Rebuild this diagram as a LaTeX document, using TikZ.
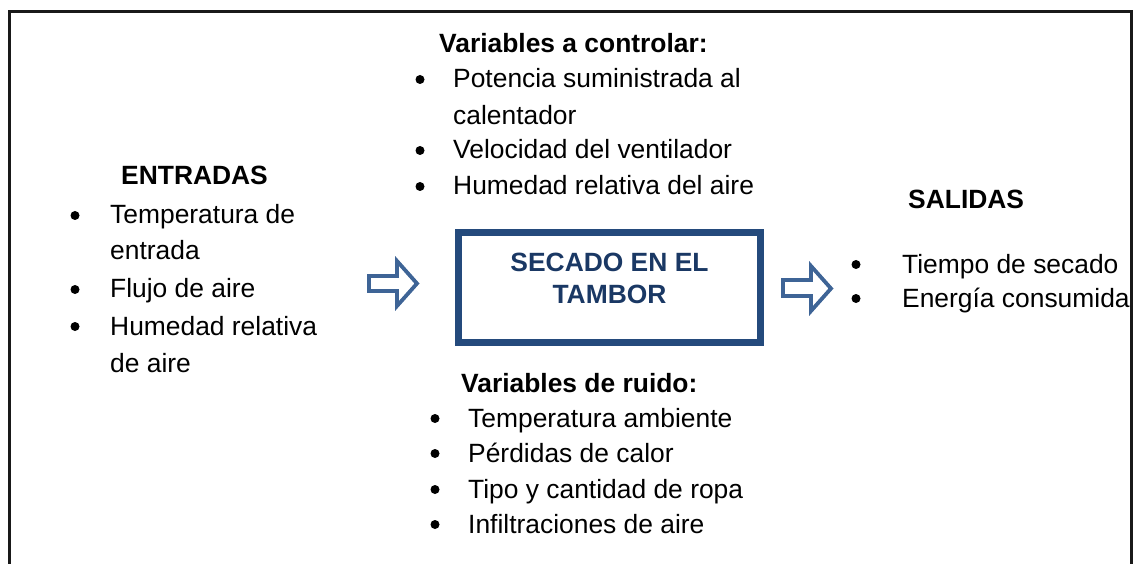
\documentclass[tikz,border=0pt]{standalone}
\usepackage{fontspec}
\setmainfont{Liberation Sans}
\definecolor{boxblue}{RGB}{36,74,124}
\definecolor{arrowblue}{RGB}{62,100,150}
\definecolor{boxtext}{RGB}{26,56,100}
\definecolor{framegray}{RGB}{25,25,25}
\newcommand\myfs{\fontsize{26.4}{31}\selectfont}
\begin{document}
\begin{tikzpicture}[x=1pt,y=-1pt,
  every node/.style={font=\myfs, inner sep=0pt},
  txt/.style={anchor=base west},
  head/.style={anchor=base west, font=\myfs\bfseries},
  bul/.style={circle, fill=black, minimum size=9pt, yshift=8.5pt},
  blockarrow/.style={draw=arrowblue, line width=3.8pt, fill=white, line join=miter},
  mainbox/.style={draw=boxblue, line width=7pt, minimum width=302pt, minimum height=110pt, align=center, font=\myfs\bfseries, text=boxtext}]
\useasboundingbox (0,0) rectangle (1133,564);
% outer frame
\draw[framegray, line width=3pt] (9.5,564) -- (9.5,11.3) -- (1131.5,11.3) -- (1131.5,564);

% central box
\node[mainbox] (box) at (609.5,287.5) {};
\node[anchor=base, font=\myfs\bfseries, text=boxtext] (b1) at (609.5,272) {SECADO EN EL};
\node[anchor=base, font=\myfs\bfseries, text=boxtext] (b2) at (609.5,303) {TAMBOR};

% block arrows
\draw[blockarrow] (369,276) -- (397,276) -- (397,261) -- (417,283.5) -- (397,306) -- (397,291) -- (369,291) -- cycle;
\draw[blockarrow] (783,280) -- (811,280) -- (811,266) -- (831,288.5) -- (811,311) -- (811,296) -- (783,296) -- cycle;

% ENTRADAS
\node[head] (hin) at (121,185) {ENTRADAS};
\node[bul] (bi1) at (75,224) {};
\node[txt] (i1a) at (110,224) {Temperatura de};
\node[txt] (i1b) at (110,260) {entrada};
\node[bul] (bi2) at (75,298) {};
\node[txt] (i2) at (110,298) {Flujo de aire};
\node[bul] (bi3) at (75,335) {};
\node[txt] (i3a) at (110,335) {Humedad relativa};
\node[txt] (i3b) at (110,372) {de aire};

% Variables a controlar
\node[head] (hc) at (439,53) {Variables a controlar:};
\node[bul] (bc1) at (420,88) {};
\node[txt] (c1a) at (453,88) {Potencia suministrada al};
\node[txt] (c1b) at (453,125) {calentador};
\node[bul] (bc2) at (420,159) {};
\node[txt] (c2) at (453,159) {Velocidad del ventilador};
\node[bul] (bc3) at (420,195) {};
\node[txt] (c3) at (453,195) {Humedad relativa del aire};

% Variables de ruido
\node[head] (hr) at (461,392) {Variables de ruido:};
\node[bul] (br1) at (435,427) {};
\node[txt] (r1) at (468,427) {Temperatura ambiente};
\node[bul] (br2) at (435,462) {};
\node[txt] (r2) at (468,462) {Pérdidas de calor};
\node[bul] (br3) at (435,498) {};
\node[txt] (r3) at (468,498) {Tipo y cantidad de ropa};
\node[bul] (br4) at (435,533) {};
\node[txt] (r4) at (468,533) {Infiltraciones de aire};

% SALIDAS
\node[head] (hout) at (908,209) {SALIDAS};
\node[bul] (bo1) at (856,273) {};
\node[txt] (o1) at (902,273) {Tiempo de secado};
\node[bul] (bo2) at (856,307) {};
\node[txt] (o2) at (902,307) {Energía consumida};
\end{tikzpicture}
\end{document}
